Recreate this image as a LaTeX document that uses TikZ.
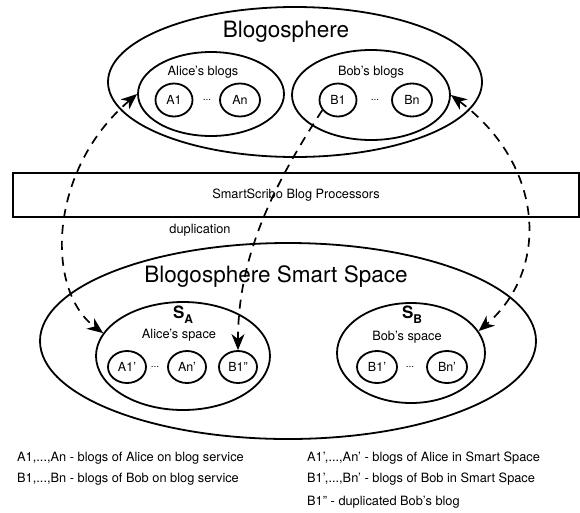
\documentclass[tikz,border=0pt]{standalone}
\usepackage{fontspec}
\setmainfont{TeX Gyre Heros}
\usetikzlibrary{shapes.geometric,arrows.meta}
\tikzset{
  ell/.style={draw, ellipse, line width=1.8pt, inner sep=0pt},
  blog/.style={draw, ellipse, line width=1.8pt, inner sep=0pt, minimum width=37pt, minimum height=33pt, font=\fontsize{12.5}{13}\selectfont},
  lbl/.style={anchor=base, inner sep=0pt, font=\fontsize{12.8}{14}\selectfont},
  big/.style={anchor=base, inner sep=0pt, font=\fontsize{22.5}{24}\selectfont},
  dots/.style={inner sep=0pt, font=\fontsize{10}{10}\selectfont},
  leg/.style={anchor=base west, inner sep=0pt, font=\fontsize{12.8}{14}\selectfont},
  flow/.style={dashed, dash pattern=on 9pt off 7pt, line width=1.7pt},
  tipa/.tip={Stealth[length=16pt, width=13pt, inset=5pt]}
}
\newcommand{\slabel}[1]{{\bfseries\fontsize{17}{17}\selectfont S\raisebox{-5pt}{\fontsize{12}{12}\selectfont #1}}}
\begin{document}
\begin{tikzpicture}[x=1pt, y=-1pt]
\useasboundingbox (0,0) rectangle (580,512);
% Blogosphere
\node[ell, minimum width=374pt, minimum height=150pt] (blogo) at (295,82) {};
\node[big] (blogot) at (286,37) {Blogosphere};
\node[ell, minimum width=146pt, minimum height=84pt] (aliceb) at (211,94) {};
\node[lbl] (alicebt) at (203,75) {Alice's blogs};
\node[blog] (a1) at (174,100) {A1};
\node[dots] (d1) at (207,100) {...};
\node[blog, minimum width=40pt] (an) at (240,100) {An};
\node[ell, minimum width=158pt, minimum height=90pt] (bobb) at (371,95) {};
\node[lbl] (bobbt) at (371,75) {Bob's blogs};
\node[blog] (b1) at (338,100) {B1};
\node[dots] (d2) at (375,100) {...};
\node[blog, minimum width=40pt] (bn) at (412,100) {Bn};
% processors
\node[draw, line width=1.5pt, minimum width=566pt, minimum height=44pt, inner sep=0pt, font=\fontsize{12.8}{14}\selectfont] (proc) at (296,195) {SmartScribo Blog Processors};
\node[lbl] (dup) at (200,233) {duplication};
% Smart space
\node[ell, minimum width=496pt, minimum height=196pt] (smart) at (288,341) {};
\node[big] (smartt) at (276,282) {Blogosphere Smart Space};
\node[ell, minimum width=174pt, minimum height=108pt] (sa) at (183,356) {};
\node[inner sep=0pt] (sat) at (183,315) {\slabel{A}};
\node[lbl] (sast) at (179,338) {Alice's space};
\node[blog, minimum width=38pt, minimum height=32pt] (a1p) at (127,367) {A1'};
\node[dots] (d3) at (155,367) {...};
\node[blog, minimum width=38pt, minimum height=32pt] (anp) at (187,367) {An'};
\node[blog, minimum width=38pt, minimum height=32pt] (b1pp) at (238,367) {B1''};
\node[ell, minimum width=148pt, minimum height=100pt] (sb) at (411,353) {};
\node[inner sep=0pt] (sbt) at (412,315) {\slabel{B}};
\node[lbl] (sbst) at (407,340) {Bob's space};
\node[blog, minimum width=40pt, minimum height=32pt] (b1p) at (377,367) {B1'};
\node[dots] (d4) at (410,367) {...};
\node[blog, minimum width=40pt, minimum height=32pt] (bnp) at (447,367) {Bn'};
% flows
\draw[flow, tipa-tipa] (aliceb.west) .. controls (48,170) and (45,290) .. (sa.164);
\draw[flow, -tipa] (b1.213) .. controls (270,190) and (238,260) .. (b1pp.north);
\draw[flow, tipa-tipa] (bobb.east) .. controls (545,165) and (550,270) .. (sb.18);
% legend
\node[leg] (l1) at (17,461) {A1,...,An - blogs of Alice on blog service};
\node[leg] (l2) at (17,482) {B1,...,Bn - blogs of Bob on blog service};
\node[leg] (l3) at (307,461) {A1',...,An' - blogs of Alice in Smart Space};
\node[leg] (l4) at (307,482) {B1',...,Bn' - blogs of Bob in Smart Space};
\node[leg] (l5) at (307,505) {B1'' - duplicated Bob's blog};
\end{tikzpicture}
\end{document}
